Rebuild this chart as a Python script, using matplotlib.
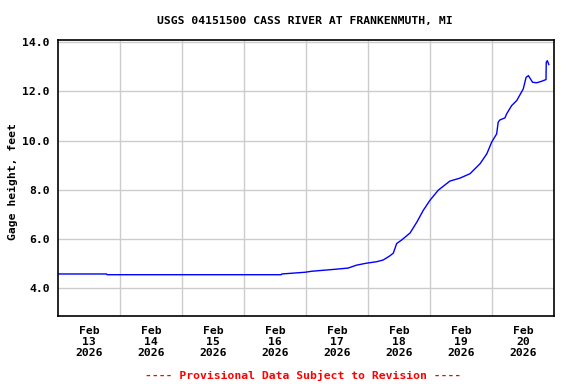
import numpy as np
import pandas as pd
import matplotlib
matplotlib.use("Agg")
import matplotlib.pyplot as plt
import matplotlib.dates as mdates

# gage height readings, hours after 2026-02-13 00:00
hours = [0.0, 18.8, 19.0, 86.4, 86.6, 90.5, 95.6, 98.2, 102.6, 107.2, 112.3,
         115.6, 119.5, 123.4, 125.9, 128.5, 129.8, 131.1, 133.0, 136.3, 138.9,
         141.4, 144.0, 147.2, 151.7, 155.6, 159.5, 163.4, 166.0, 167.9, 169.8,
         170.4, 171.1, 173.0, 173.7, 175.6, 177.6, 180.1, 181.2, 182.1, 183.7,
         185.3, 187.2, 188.9, 189.0, 189.4, 190.0]
stage_ft = [4.57, 4.57, 4.54, 4.54, 4.57, 4.60, 4.64, 4.68, 4.72, 4.76, 4.81,
            4.93, 5.01, 5.07, 5.14, 5.31, 5.42, 5.81, 5.95, 6.24, 6.68,
            7.16, 7.57, 7.98, 8.35, 8.47, 8.65, 9.06, 9.46, 9.94, 10.27,
            10.75, 10.84, 10.92, 11.09, 11.42, 11.63, 12.10, 12.57, 12.64, 12.37,
            12.35, 12.41, 12.48, 13.18, 13.25, 13.09]

day_labels = ["Feb\n13\n2026", "Feb\n14\n2026", "Feb\n15\n2026", "Feb\n16\n2026",
              "Feb\n17\n2026", "Feb\n18\n2026", "Feb\n19\n2026", "Feb\n20\n2026"]
y_ticks = [4.0, 6.0, 8.0, 10.0, 12.0, 14.0]

start = pd.Timestamp("2026-02-13")
times = start + pd.to_timedelta(hours, unit="h")

plt.rcParams["font.family"] = "DejaVu Sans Mono"
plt.rcParams["font.weight"] = "bold"

fig = plt.figure(figsize=(5.76, 3.84), dpi=100)
ax = fig.add_axes([58 / 576, 68 / 384, 496 / 576, 276 / 384])

ax.plot(times, stage_ft, color="blue", linewidth=1.0)

midnights = [start + pd.Timedelta(days=i) for i in range(1, 8)]
noons = [start + pd.Timedelta(days=i, hours=12) for i in range(len(day_labels))]
ax.set_xticks(mdates.date2num(midnights))
ax.set_xticklabels([])
ax.set_xticks(mdates.date2num(noons), minor=True)
ax.set_xticklabels(day_labels, minor=True, fontsize=8.2, fontweight="bold",
                   linespacing=1.15)
ax.set_xlim(mdates.date2num(start), mdates.date2num(start + pd.Timedelta(days=8)))

ax.set_yticks(y_ticks)
ax.set_yticklabels([f"{v:.1f}" for v in y_ticks], fontsize=8.2, fontweight="bold")
ax.set_ylim(2.86, 14.09)

ax.tick_params(axis="both", which="both", length=0)
ax.tick_params(axis="y", pad=6)
ax.tick_params(axis="x", which="minor", pad=7)

ax.grid(True, which="major", color="#cccccc", linewidth=1.0)
ax.set_axisbelow(True)
for s in ax.spines.values():
    s.set_linewidth(1.2)
    s.set_color("black")

ax.set_ylabel("Gage height, feet", fontsize=8.2, fontweight="bold")
ax.yaxis.set_label_coords(-0.081, 0.486)
fig.text(0.529, 0.946, "USGS 04151500 CASS RIVER AT FRANKENMUTH, MI",
         ha="center", va="center", fontsize=8.2, fontweight="bold")
fig.text(0.526, 0.023, "---- Provisional Data Subject to Revision ----",
         ha="center", va="center", fontsize=8.2, fontweight="bold", color="red")

fig.savefig("out.png", dpi=100)
